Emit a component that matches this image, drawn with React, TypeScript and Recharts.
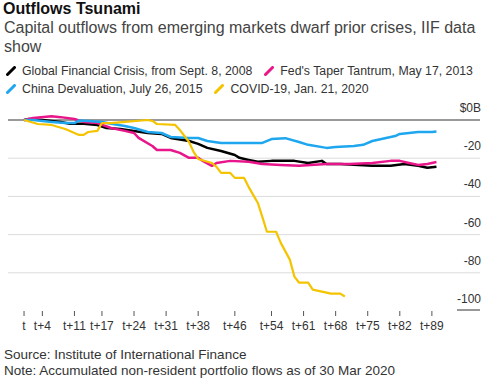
import { CartesianGrid, Line, LineChart, XAxis, YAxis } from 'recharts'

// trading days after each crisis start, and accumulated flows ($B)
const gfcDays = [0, 1, 4, 8, 10, 13, 16, 18, 21, 24, 27, 30, 32, 36, 38, 40, 43, 46, 47, 49, 51, 54, 59, 62, 65, 66, 69, 73, 76, 80, 83, 86, 88, 90]
const gfcValues = [0, 0.5, 0, -1, -2, -2, -2.6, -4.2, -4.7, -5.7, -6.8, -7.3, -9.4, -11, -12.5, -14.6, -16.2, -18.3, -19.8, -20.9, -21.9, -21.4, -21.4, -22.5, -21.4, -23, -23, -23.5, -24, -24, -23, -24, -25, -24.5]

const taperDays = [0, 2, 6, 8, 11, 13, 16, 19, 22, 24, 25, 28, 29, 32, 34, 36, 38, 39, 41, 42, 45, 49, 52, 56, 60, 66, 71, 76, 80, 82, 84, 86, 88, 90]
const taperValues = [0, 1, 2, 1.5, 0.5, -1, -1.6, -4.2, -5.7, -6.8, -9.4, -13.6, -15.7, -15.7, -17.2, -19.8, -19.8, -21.4, -24, -22.5, -21.4, -21.9, -23, -23.5, -24, -23, -23, -22.5, -21.4, -21.4, -22.5, -23.5, -23, -22]

const chinaDays = [0, 2, 6, 9, 11, 12, 14, 17, 19, 22, 24, 27, 30, 32, 36, 38, 40, 43, 47, 52, 54, 57, 60, 62, 66, 68, 72, 74, 76, 78, 81, 82, 84, 86, 89, 90]
const chinaValues = [0, 0, -1, -1.6, -1.6, -0.3, -0.5, -1, -2, -3.1, -4.2, -6.3, -6.8, -8.9, -9.4, -9.4, -11, -12, -12, -12, -10, -9.5, -11.5, -13, -14.6, -14.1, -13.6, -13, -11, -9.9, -8.4, -7.3, -6.8, -6.3, -6.3, -6]

const covidDays = [0, 3, 6, 9, 12, 13, 14, 16, 17, 19, 22, 27, 28, 29, 33, 34, 36, 37, 38, 41, 42, 43, 45, 46, 48, 49, 50, 51, 52, 53, 55, 56, 58, 59, 60, 62, 63, 67, 69, 70]
const covidValues = [0, -2.1, -2.6, -4.7, -7.8, -7.8, -6.3, -5.7, -1.6, -1.6, -1, 0, -0.5, -2.1, -2.6, -5.2, -11.5, -16.7, -20.4, -22.5, -24.5, -27.7, -27.7, -30.3, -30.3, -35, -39.2, -43.3, -50.7, -58.5, -58.5, -64.2, -73.1, -82, -85.1, -85.1, -88.8, -90.9, -90.9, -92.4]

const xTicks = [0, 4, 11, 17, 24, 31, 38, 46, 54, 61, 68, 75, 82, 89]
const yTicks = [0, -20, -40, -60, -80, -100]

const zip = (days: number[], values: number[]) => days.map((t, i) => ({ t, v: values[i] }))

const series = [
  { name: 'Global Financial Crisis, from Sept. 8, 2008', color: '#000000', width: 2.5, data: zip(gfcDays, gfcValues) },
  { name: "Fed's Taper Tantrum, May 17, 2013", color: '#e8168a', width: 2.5, data: zip(taperDays, taperValues) },
  { name: 'China Devaluation, July 26, 2015', color: '#1ea7ee', width: 2.5, data: zip(chinaDays, chinaValues) },
  { name: 'COVID-19, Jan. 21, 2020', color: '#f5c400', width: 2.2, data: zip(covidDays, covidValues) },
]

const legendRows = [
  [0, 1],
  [2, 3],
]

const font = '"Liberation Sans", Arial, Helvetica, sans-serif'

function renderYTick(props: any) {
  const { x, y, payload } = props
  const v = payload.value
  return (
    <g key={`yt-${v}`}>
      <text x={x + 1} y={y - 8} textAnchor="end" fontSize={12} fill="#333" fontFamily={font}>
        {v === 0 ? '$0B' : v}
      </text>
      {v === -100 && <line x1={x - 23} x2={x} y1={y - 1} y2={y - 1} stroke="#333" strokeWidth={1} />}
    </g>
  )
}

function LegendIcon({ color }: { color: string }) {
  return (
    <svg width={10} height={10} style={{ marginRight: 6, flexShrink: 0 }}>
      <line x1={1.5} y1={8.5} x2={8.5} y2={1.5} stroke={color} strokeWidth={3} strokeLinecap="round" />
    </svg>
  )
}

export default function App() {
  return (
    <div style={{ position: 'absolute', left: 0, top: 0, width: 494, height: 380, fontFamily: font, color: '#222' }}>
      <div style={{ position: 'absolute', left: 3, top: 0, fontSize: 16, lineHeight: '18px', fontWeight: 700, color: '#111', whiteSpace: 'nowrap' }}>
        Outflows Tsunami
      </div>
      <div style={{ position: 'absolute', left: 4, top: 18, fontSize: 16, lineHeight: '19px', color: '#444', whiteSpace: 'nowrap' }}>
        Capital outflows from emerging markets dwarf prior crises, IIF data
        <br />
        show
      </div>
      {legendRows.map((row, r) => (
        <div
          key={r}
          style={{ position: 'absolute', left: 6, top: 62 + r * 18, display: 'flex', alignItems: 'center', fontSize: 12.3, lineHeight: '18px', color: '#333', whiteSpace: 'nowrap' }}
        >
          {row.map((i) => (
            <div key={i} style={{ display: 'flex', alignItems: 'center', marginRight: 12 }}>
              <LegendIcon color={series[i].color} />
              <span>{series[i].name}</span>
            </div>
          ))}
        </div>
      ))}
      <div style={{ position: 'absolute', left: 0, top: 96 }}>
        <LineChart width={494} height={244} margin={{ top: 14.45, right: 13, bottom: 0, left: 8 }}>
          <CartesianGrid horizontal vertical={false} horizontalValues={[-20, -40, -60, -80]} stroke="#dcdcdc" />
          <CartesianGrid horizontal vertical={false} horizontalValues={[0]} stroke="#999" strokeWidth={2} />
          <XAxis
            type="number"
            dataKey="t"
            domain={[-3.5, 99.5]}
            ticks={xTicks}
            interval={0}
            tickFormatter={(v) => (v === 0 ? 't' : `t+${v}`)}
            axisLine={false}
            tickLine={{ stroke: '#555' }}
            tickSize={5}
            tickMargin={5}
            height={29}
            tick={{ fontSize: 12, fill: '#333', fontFamily: font }}
          />
          <YAxis
            orientation="right"
            type="number"
            domain={[-100, 5]}
            ticks={yTicks}
            interval={0}
            width={1}
            axisLine={false}
            tickLine={false}
            tickSize={0}
            tickMargin={0}
            tick={renderYTick}
          />
          {series.map((s) => (
            <Line
              key={s.name}
              data={s.data}
              dataKey="v"
              name={s.name}
              type="linear"
              stroke={s.color}
              strokeWidth={s.width}
              strokeLinejoin="round"
              dot={false}
              activeDot={false}
              isAnimationActive={false}
            />
          ))}
        </LineChart>
      </div>
      <div style={{ position: 'absolute', left: 4, top: 346.5, fontSize: 13.5, lineHeight: '16px', color: '#333', whiteSpace: 'nowrap' }}>
        Source: Institute of International Finance
        <br />
        Note: Accumulated non-resident portfolio flows as of 30 Mar 2020
      </div>
    </div>
  )
}
